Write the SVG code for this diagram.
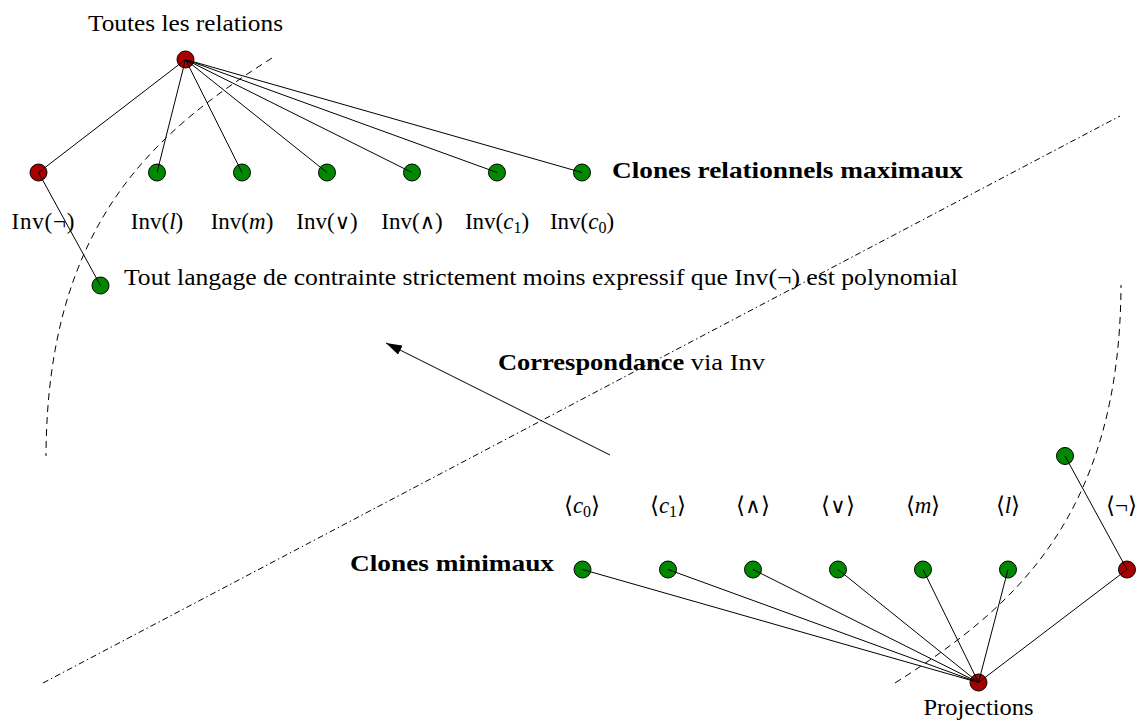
<svg xmlns="http://www.w3.org/2000/svg" width="1138" height="720" viewBox="0 0 1138 720">
<style>
text{font-family:"Liberation Serif","Times New Roman",serif;font-size:23px;fill:#000}
.b{font-weight:bold}
.c{text-anchor:middle}
.i{font-style:italic}
.op{font-family:"DejaVu Serif","DejaVu Sans",serif;font-weight:normal;font-size:21px}
.red{fill:#a80000;stroke:#000;stroke-width:1}
.grn{fill:#008800;stroke:#000;stroke-width:1}
.e{stroke:#000;stroke-width:1;fill:none}
.dash{stroke:#000;stroke-width:1;fill:none;stroke-dasharray:7 5}
.dd{stroke:#000;stroke-width:1;fill:none;stroke-dasharray:6 3 1.5 3}
</style>
<defs>
<marker id="ah" viewBox="0 0 16 10" refX="16" refY="5" markerWidth="16" markerHeight="10" markerUnits="userSpaceOnUse" orient="auto">
<path d="M0,0 L16,5 L0,10 Z" fill="#000"/>
</marker>
</defs>
<rect width="1138" height="720" fill="#fff"/>

<g id="separators">
<path class="dash" d="M272 58 C157 131 47 221 46 456"/>
<path class="dash" d="M895 683 C1010 610 1120 520 1121 285"/>
<path class="dd" d="M43 683 L1120 116"/>
</g>

<g id="n-top"><circle class="red" cx="185.5" cy="59.5" r="8.5"/><text class="c" x="185.5" y="31" textLength="195" lengthAdjust="spacingAndGlyphs">Toutes les relations</text></g>
<g id="n-inv-neg"><circle class="red" cx="38.5" cy="172.5" r="8.5"/><text class="c" x="43" y="229" textLength="63">Inv(¬)</text></g>
<g id="n-inv-l"><circle class="grn" cx="157" cy="172.5" r="8.5"/><text class="c" x="157" y="229">Inv(<tspan class="i">l</tspan>)</text></g>
<g id="n-inv-m"><circle class="grn" cx="242" cy="172.5" r="8.5"/><text class="c" x="242" y="229">Inv(<tspan class="i">m</tspan>)</text></g>
<g id="n-inv-or"><circle class="grn" cx="327" cy="172.5" r="8.5"/><text class="c" x="327" y="229">Inv(<tspan class="op">∨</tspan>)</text></g>
<g id="n-inv-and"><circle class="grn" cx="412" cy="172.5" r="8.5"/><text class="c" x="412" y="229">Inv(<tspan class="op">∧</tspan>)</text></g>
<g id="n-inv-c1"><circle class="grn" cx="497" cy="172.5" r="8.5"/><text class="c" x="497" y="229">Inv(<tspan class="i">c</tspan><tspan font-size="16" dy="4">1</tspan><tspan dy="-4">)</tspan></text></g>
<g id="n-inv-c0"><circle class="grn" cx="582" cy="172.5" r="8.5"/><text class="c" x="582" y="229">Inv(<tspan class="i">c</tspan><tspan font-size="16" dy="4">0</tspan><tspan dy="-4">)</tspan></text></g>
<g id="lbl-max"><text class="b" x="612" y="178" textLength="351" lengthAdjust="spacingAndGlyphs">Clones relationnels maximaux</text></g>
<g id="n-poly"><circle class="grn" cx="100.5" cy="285.5" r="8.5"/><text x="124" y="285" textLength="834" lengthAdjust="spacingAndGlyphs">Tout langage de contrainte strictement moins expressif que Inv(¬) est polynomial</text></g>

<g id="lbl-corr"><text x="498" y="370" textLength="267" lengthAdjust="spacingAndGlyphs"><tspan class="b">Correspondance</tspan> via Inv</text></g>

<g id="lbl-min"><text class="b" x="350" y="571" textLength="204" lengthAdjust="spacingAndGlyphs">Clones minimaux</text></g>
<g id="n-c0"><circle class="grn" cx="582.5" cy="569.5" r="8.5"/><text class="c" x="582" y="513">⟨<tspan class="i">c</tspan><tspan font-size="16" dy="4">0</tspan><tspan dy="-4">⟩</tspan></text></g>
<g id="n-c1"><circle class="grn" cx="668" cy="569.5" r="8.5"/><text class="c" x="668" y="513">⟨<tspan class="i">c</tspan><tspan font-size="16" dy="4">1</tspan><tspan dy="-4">⟩</tspan></text></g>
<g id="n-and"><circle class="grn" cx="753" cy="569.5" r="8.5"/><text class="c" x="753" y="513">⟨<tspan class="op">∧</tspan>⟩</text></g>
<g id="n-or"><circle class="grn" cx="838" cy="569.5" r="8.5"/><text class="c" x="838" y="513">⟨<tspan class="op">∨</tspan>⟩</text></g>
<g id="n-m"><circle class="grn" cx="923" cy="569.5" r="8.5"/><text class="c" x="923" y="513">⟨<tspan class="i">m</tspan>⟩</text></g>
<g id="n-l"><circle class="grn" cx="1008" cy="569.5" r="8.5"/><text class="c" x="1008" y="513">⟨<tspan class="i">l</tspan>⟩</text></g>
<g id="n-neg"><circle class="red" cx="1127" cy="569.5" r="8.5"/><text x="1106" y="513">⟨¬⟩</text></g>
<g id="n-top2"><circle class="grn" cx="1065" cy="456" r="8.5"/></g>
<g id="n-proj"><circle class="red" cx="978.5" cy="682.5" r="8.5"/><text class="c" x="978.5" y="715" textLength="110" lengthAdjust="spacingAndGlyphs">Projections</text></g>

<g id="connectors">
<line class="e" x1="185.5" y1="59.5" x2="38.5" y2="172.5"/>
<line class="e" x1="185.5" y1="59.5" x2="157" y2="172.5"/>
<line class="e" x1="185.5" y1="59.5" x2="242" y2="172.5"/>
<line class="e" x1="185.5" y1="59.5" x2="327" y2="172.5"/>
<line class="e" x1="185.5" y1="59.5" x2="412" y2="172.5"/>
<line class="e" x1="185.5" y1="59.5" x2="497" y2="172.5"/>
<line class="e" x1="185.5" y1="59.5" x2="582" y2="172.5"/>
<line class="e" x1="38.5" y1="172.5" x2="100.5" y2="285.5"/>
<line class="e" x1="978.5" y1="682.5" x2="582.5" y2="569.5"/>
<line class="e" x1="978.5" y1="682.5" x2="668" y2="569.5"/>
<line class="e" x1="978.5" y1="682.5" x2="753" y2="569.5"/>
<line class="e" x1="978.5" y1="682.5" x2="838" y2="569.5"/>
<line class="e" x1="978.5" y1="682.5" x2="923" y2="569.5"/>
<line class="e" x1="978.5" y1="682.5" x2="1008" y2="569.5"/>
<line class="e" x1="978.5" y1="682.5" x2="1127" y2="569.5"/>
<line class="e" x1="1127" y1="569.5" x2="1065" y2="456"/>
<line class="e" x1="610" y1="455" x2="386" y2="343" marker-end="url(#ah)"/>
</g>
</svg>
